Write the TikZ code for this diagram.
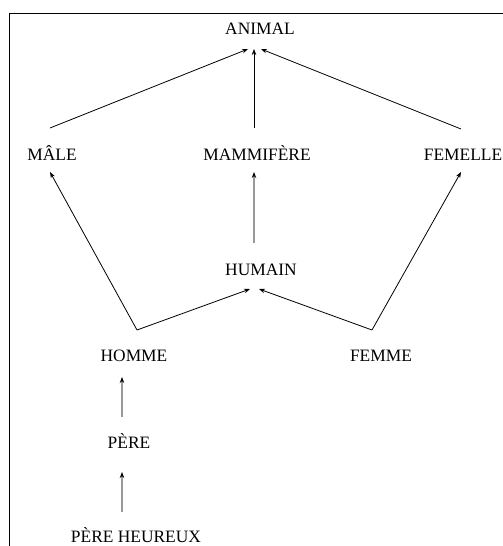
\documentclass[tikz,border=0pt]{standalone}
\usepackage{fontspec}
\setmainfont{Liberation Serif}
\usetikzlibrary{arrows.meta,calc}
\begin{document}
\begin{tikzpicture}[x=1pt,y=-1pt,
  lbl/.style={font=\fontsize{17.4}{20}\selectfont, inner sep=0pt, anchor=base},
  arr/.style={-{Stealth[length=6pt,width=4.5pt]}, line width=0.8pt},
  grayarr/.style={-{Stealth[length=6pt,width=4.5pt,color=black]}, line width=1.3pt, draw=black!40},
  framestyle/.style={line width=0.8pt}]
\useasboundingbox (0,0) rectangle (503,546);
\draw[framestyle] (9,13) rectangle (540,580);
% nodes
\node[lbl] (animal) at (260,34) {ANIMAL};
\node[lbl] (male) at (52,160) {MÂLE};
\node[lbl] (mammifere) at (257,160) {MAMMIFÈRE};
\node[lbl] (femelle) at (463,160) {FEMELLE};
\node[lbl] (humain) at (261,275) {HUMAIN};
\node[lbl] (homme) at (134,361) {HOMME};
\node[lbl] (femme) at (381,361) {FEMME};
\node[lbl] (pere) at (129,448) {PÈRE};
\node[lbl] (pereheureux) at (136,542) {PÈRE HEUREUX};
% anchor points
\coordinate (hommeapex) at ($(homme.base)+(3,-31)$);
\coordinate (femmeapex) at ($(femme.base)+(-9,-31)$);
% connectors
\draw[arr] ($(male.base)+(-2,-32)$) -- ($(animal.base)+(-12,15)$);
\draw[arr, line width=0.6pt] ($(mammifere.base)+(-3,-32)$) -- ($(animal.base)+(-6,15)$);
\draw[arr] ($(femelle.base)+(-2,-31)$) -- ($(animal.base)+(1,15)$);
\draw[arr] (hommeapex) -- ($(male.base)+(-2,12)$);
\draw[arr] (femmeapex) -- ($(femelle.base)+(-2,12)$);
\draw[grayarr] ($(humain.base)+(-7,-32)$) -- ($(mammifere.base)+(-3,12)$);
\draw[arr] (hommeapex) -- ($(humain.base)+(-11,14)$);
\draw[arr] (femmeapex) -- ($(humain.base)+(-2,14)$);
\draw[grayarr] ($(pere.base)+(-7,-31)$) -- ($(homme.base)+(-12,16)$);
\draw[grayarr] ($(pereheureux.base)+(-14,-30)$) -- ($(pere.base)+(-7,24)$);
\end{tikzpicture}
\end{document}
